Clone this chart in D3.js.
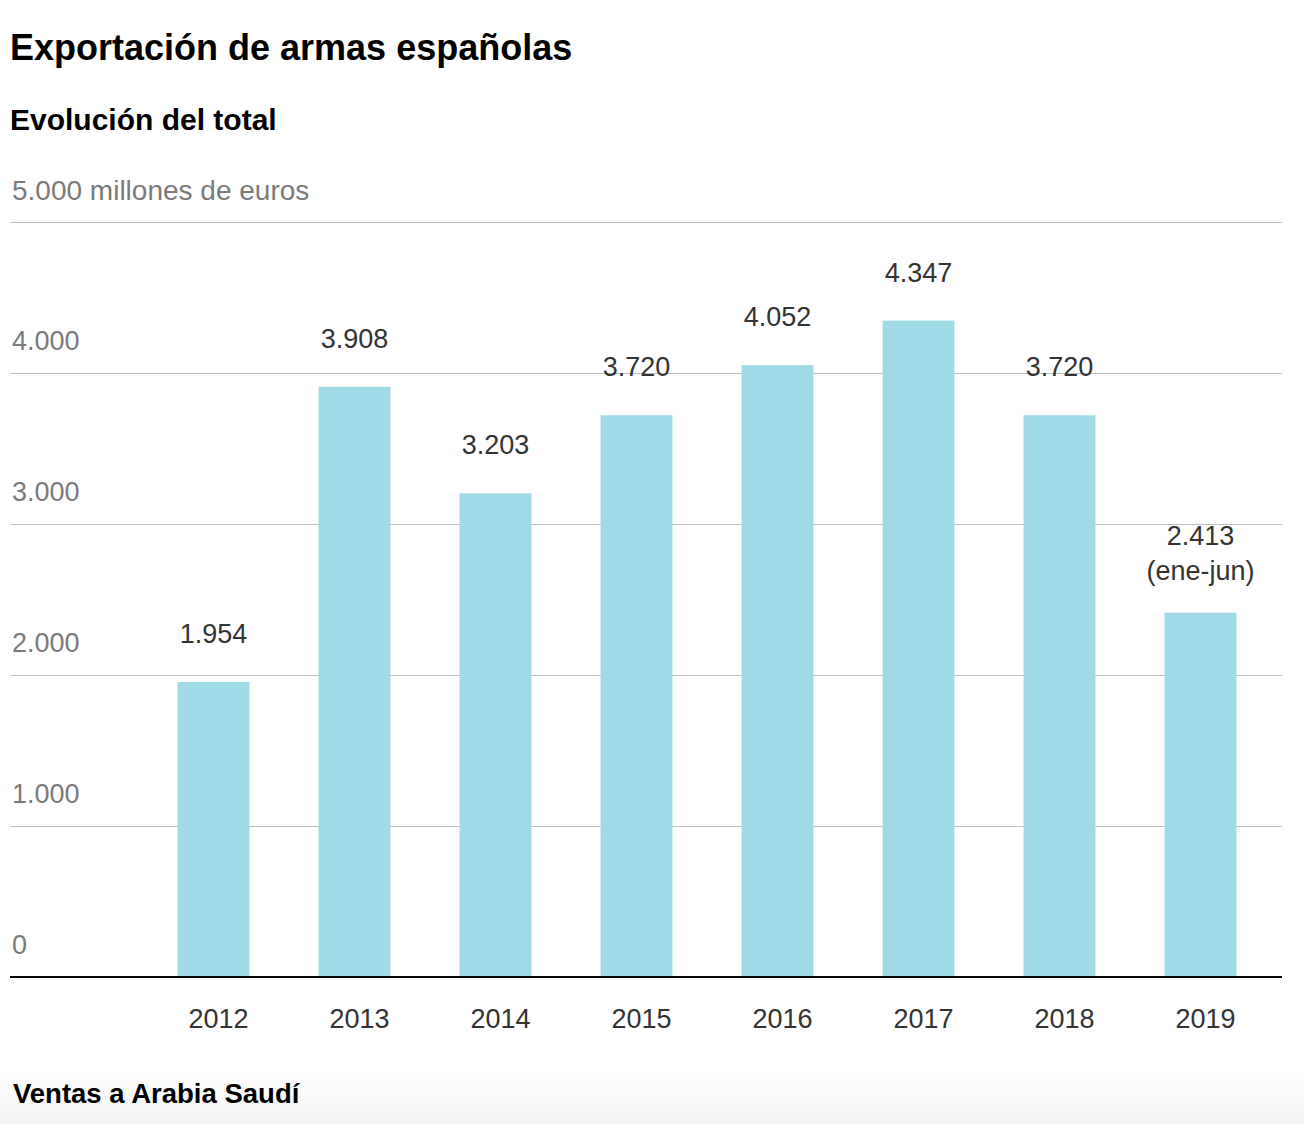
<!DOCTYPE html>
<html>
<head>
<meta charset="utf-8">
<script src="https://cdn.jsdelivr.net/npm/d3@7/dist/d3.min.js"></script>
<style>
    body { margin: 0; background: #fff; }
    svg text { font-family: "Liberation Sans", Arial, Helvetica, sans-serif; }
</style>
</head>
<body>
<svg id="chart"></svg>
<script>
// datos: exportacion total de armas, millones de euros
var years = ["2012", "2013", "2014", "2015", "2016", "2017", "2018", "2019"];
var totals = [1954, 3908, 3203, 3720, 4052, 4347, 3720, 2413];
var valueLabels = ["1.954", "3.908", "3.203", "3.720", "4.052", "4.347", "3.720", "2.413"];
var valueNotes = ["", "", "", "", "", "", "", "(ene-jun)"];
var yTicks = [0, 1000, 2000, 3000, 4000, 5000];
var yTickLabels = ["0", "1.000", "2.000", "3.000", "4.000", "5.000 millones de euros"];

var width = 1304,
    height = 1124,
    left = 10,
    right = 1282,
    barColor = "#a0dae6";

var svg = d3.select("#chart")
    .attr("width", width)
    .attr("height", height);

// degradado gris suave al pie
var grad = svg.append("defs").append("linearGradient")
    .attr("id", "foot")
    .attr("x1", 0).attr("y1", 0)
    .attr("x2", 0).attr("y2", 1);
grad.append("stop").attr("offset", "0%").attr("stop-color", "#ffffff");
grad.append("stop").attr("offset", "100%").attr("stop-color", "#f4f4f4");

svg.append("rect")
    .attr("x", 0)
    .attr("y", 1070)
    .attr("width", width)
    .attr("height", height - 1070)
    .attr("fill", "url(#foot)");

// titulos
svg.append("text")
    .attr("x", 10)
    .attr("y", 60)
    .attr("font-size", "36px")
    .attr("font-weight", "bold")
    .attr("fill", "#000")
    .text("Exportación de armas españolas");

svg.append("text")
    .attr("x", 10)
    .attr("y", 130)
    .attr("font-size", "30px")
    .attr("font-weight", "bold")
    .attr("fill", "#000")
    .text("Evolución del total");

svg.append("text")
    .attr("x", 13)
    .attr("y", 1103)
    .attr("font-size", "27.5px")
    .attr("font-weight", "bold")
    .attr("fill", "#000")
    .text("Ventas a Arabia Saudí");

// escalas
var x = d3.scaleBand()
    .domain(years)
    .range([143, 1271])
    .paddingInner(0.49)
    .paddingOuter(0.245);

var y = d3.scaleLinear()
    .domain([0, 5000])
    .range([977, 222]);

// lineas de referencia
var grid = svg.append("g");
grid.selectAll("line")
    .data(yTicks.filter(function (d) { return d > 0; }))
    .enter()
    .append("line")
    .attr("x1", left)
    .attr("x2", right)
    .attr("y1", function (d) { return Math.round(y(d)) + 0.5; })
    .attr("y2", function (d) { return Math.round(y(d)) + 0.5; })
    .attr("stroke", "#bdbdbd")
    .attr("stroke-width", 1);

grid.selectAll("text")
    .data(yTicks)
    .enter()
    .append("text")
    .attr("x", 12)
    .attr("y", function (d) { return y(d) - (d == 5000 ? 22 : 23); })
    .attr("font-size", function (d) { return d == 5000 ? "28px" : "27px"; })
    .attr("fill", "#7a7a7a")
    .text(function (d, i) { return yTickLabels[i]; });

// barras
svg.append("g").selectAll("rect")
    .data(totals)
    .enter()
    .append("rect")
    .attr("x", function (d, i) { return x(years[i]); })
    .attr("y", function (d) { return y(d); })
    .attr("width", x.bandwidth())
    .attr("height", function (d) { return y(0) - y(d); })
    .attr("fill", barColor);

// linea base
svg.append("line")
    .attr("x1", left)
    .attr("x2", right)
    .attr("y1", y(0))
    .attr("y2", y(0))
    .attr("stroke", "#000")
    .attr("stroke-width", 2);

// etiquetas de valor
var labels = svg.append("g").selectAll("text")
    .data(totals)
    .enter()
    .append("text")
    .attr("text-anchor", "middle")
    .attr("font-size", "27px")
    .attr("fill", "#333")
    .attr("x", function (d, i) { return x(years[i]) + x.bandwidth() / 2; })
    .attr("y", function (d, i) {
        return y(d) - (valueNotes[i] ? 68 : 39);
    });

labels.append("tspan")
    .text(function (d, i) { return valueLabels[i]; });

labels.append("tspan")
    .attr("x", function (d, i) { return x(years[i]) + x.bandwidth() / 2; })
    .attr("dy", 35)
    .text(function (d, i) { return valueNotes[i]; });

// eje x (años)
var xAxis = svg.append("g")
    .attr("transform", "translate(0," + y(0) + ")")
    .call(d3.axisBottom(x).tickSize(0).tickPadding(0));

xAxis.select(".domain").remove();
xAxis.selectAll("text")
    .attr("dy", null)
    .attr("y", 51)
    .attr("dx", 5)
    .attr("font-size", "27px")
    .attr("font-family", null)
    .attr("fill", "#333");
</script>
</body>
</html>
